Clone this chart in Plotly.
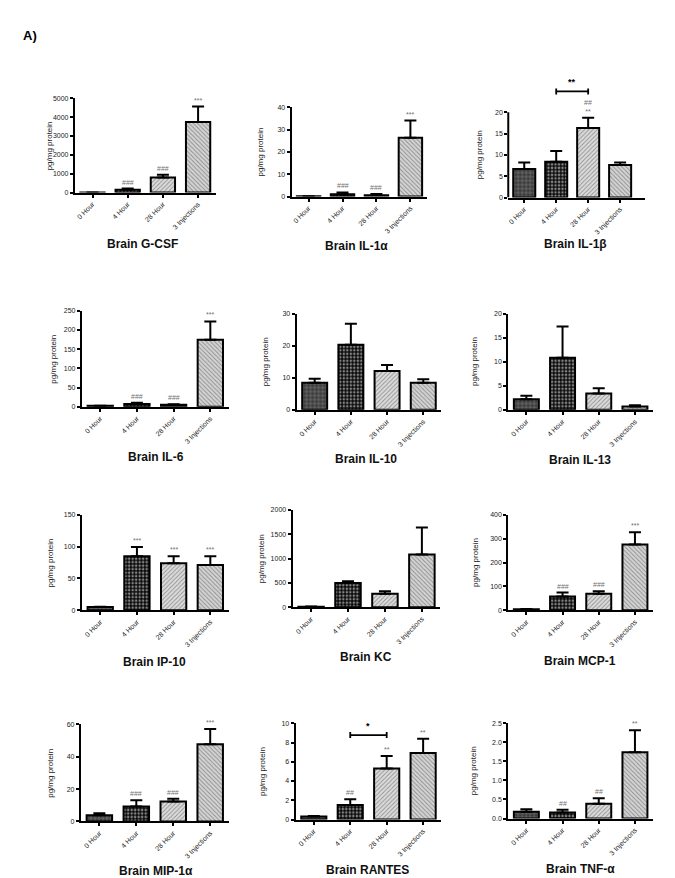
import plotly.graph_objects as go

W, H = 675, 878

categories = ["0 Hour", "4 Hour", "28 Hour", "3 Injections"]

gcsf_mean = [5, 150, 795, 3740]
gcsf_err = [3, 60, 150, 820]
gcsf_sig = ["", "###", "###", "***"]
gcsf_ticks = [0, 1000, 2000, 3000, 4000, 5000]

il1a_mean = [0.1, 1.0, 0.6, 26.3]
il1a_err = [0.05, 0.8, 0.5, 7.7]
il1a_sig = ["", "###", "###", "***"]
il1a_ticks = [0, 10, 20, 30, 40]

il1b_mean = [6.7, 8.4, 16.3, 7.6]
il1b_err = [1.5, 2.5, 2.4, 0.6]
il1b_sig = ["", "", "##<br>**", ""]
il1b_ticks = [0, 5, 10, 15, 20]
il1b_bracket = ["4 Hour", "28 Hour", "**"]

il6_mean = [2.5, 7.5, 5.5, 174]
il6_err = [0.5, 3, 1.5, 48]
il6_sig = ["", "###", "###", "***"]
il6_ticks = [0, 50, 100, 150, 200, 250]

il10_mean = [8.4, 20.3, 12.1, 8.4]
il10_err = [1.3, 6.5, 1.9, 1.1]
il10_sig = ["", "", "", ""]
il10_ticks = [0, 10, 20, 30]

il13_mean = [2.2, 10.8, 3.4, 0.7]
il13_err = [0.7, 6.5, 1.1, 0.25]
il13_sig = ["", "", "", ""]
il13_ticks = [0, 5, 10, 15, 20]

ip10_mean = [5, 85, 74, 71]
ip10_err = [0.5, 14.5, 11, 14]
ip10_sig = ["", "***", "***", "***"]
ip10_ticks = [0, 50, 100, 150]

kc_mean = [10, 500, 275, 1085]
kc_err = [3, 35, 55, 555]
kc_sig = ["", "", "", ""]
kc_ticks = [0, 500, 1000, 1500, 2000]

mcp1_mean = [4, 58, 69, 276]
mcp1_err = [1, 16, 11, 51]
mcp1_sig = ["", "###", "###", "***"]
mcp1_ticks = [0, 100, 200, 300, 400]

mip1a_mean = [3.9, 9.2, 12.3, 47.6]
mip1a_err = [1.2, 3.9, 1.7, 9.5]
mip1a_sig = ["", "###", "###", "***"]
mip1a_ticks = [0, 20, 40, 60]

rantes_mean = [0.3, 1.5, 5.3, 6.9]
rantes_err = [0.06, 0.6, 1.3, 1.5]
rantes_sig = ["", "##", "**", "**"]
rantes_ticks = [0, 2, 4, 6, 8, 10]
rantes_bracket = ["4 Hour", "28 Hour", "*"]

tnfa_mean = [0.18, 0.16, 0.39, 1.74]
tnfa_err = [0.06, 0.07, 0.14, 0.58]
tnfa_sig = ["", "##", "##", "**"]
tnfa_ticks = [0, 0.5, 1.0, 1.5, 2.0, 2.5]

panels = [
    ("Brain G-CSF", gcsf_mean, gcsf_err, gcsf_sig, gcsf_ticks, None),
    ("Brain IL-1α", il1a_mean, il1a_err, il1a_sig, il1a_ticks, None),
    ("Brain IL-1β", il1b_mean, il1b_err, il1b_sig, il1b_ticks, il1b_bracket),
    ("Brain IL-6", il6_mean, il6_err, il6_sig, il6_ticks, None),
    ("Brain IL-10", il10_mean, il10_err, il10_sig, il10_ticks, None),
    ("Brain IL-13", il13_mean, il13_err, il13_sig, il13_ticks, None),
    ("Brain IP-10", ip10_mean, ip10_err, ip10_sig, ip10_ticks, None),
    ("Brain KC", kc_mean, kc_err, kc_sig, kc_ticks, None),
    ("Brain MCP-1", mcp1_mean, mcp1_err, mcp1_sig, mcp1_ticks, None),
    ("Brain MIP-1α", mip1a_mean, mip1a_err, mip1a_sig, mip1a_ticks, None),
    ("Brain RANTES", rantes_mean, rantes_err, rantes_sig, rantes_ticks, rantes_bracket),
    ("Brain TNF-α", tnfa_mean, tnfa_err, tnfa_sig, tnfa_ticks, None),
]

# layout boxes in pixels: x0, x1, y of top tick, y of zero, title cx, title cy, y-title x, x right range
boxes = [
    (66, 207, 87, 182, 134, 234, 40, 3.5),
    (283, 419, 96, 186, 348, 236, 252, 3.5),
    (500, 637, 101, 187, 567, 234, 472, 3.78),
    (73, 220, 301, 398, 147, 449, 45, 3.5),
    (288, 433, 304, 401, 358, 451, 257, 3.5),
    (500, 645, 304, 401, 572, 452, 466, 3.5),
    (73, 220, 507, 603, 146, 655, 42, 3.5),
    (284, 432, 502, 600, 358, 650, 253, 3.5),
    (500, 645, 507, 603, 572, 654, 467, 3.5),
    (72, 220, 718, 816, 147, 866, 42, 3.5),
    (287, 433, 717, 814, 359, 865, 254, 3.5),
    (500, 645, 717, 813, 572, 864, 466, 3.5),
]

# bar fills (per category)
bg_colors = ["#3a3a3a", "#0a0a0a", "#dcdcdc", "#d4d4d4"]
fg_colors = ["#a0a0a0", "#ffffff", "#808080", "#808080"]
pat_shapes = ["+", ".", "/", "\\"]
pat_sizes = [4, 3.5, 3, 3]
pat_solid = [0.2, 0.4, 0.3, 0.3]

FONT = "Arial, Liberation Sans, sans-serif"

fig = go.Figure()
layout = dict(
    width=W, height=H, margin=dict(l=0, r=0, t=0, b=0),
    paper_bgcolor="white", plot_bgcolor="white", showlegend=False,
    font=dict(family=FONT, color="#222"),
)
annotations = []
shapes = []

for i, ((title, mean, err, sig, ticks, bracket), box) in enumerate(zip(panels, boxes)):
    k = i + 1
    xa, ya = f"x{k}", f"y{k}"
    x0, x1, ytop, yzero, tcx, tcy, ytx, xr = box
    top_tick = ticks[-1]
    ppu = (yzero - ytop) / top_tick
    range_top = top_tick
    bracket_y = None
    if bracket is not None:
        ia, ib = categories.index(bracket[0]), categories.index(bracket[1])
        tops = [mean[j] + err[j] for j in (ia, ib)]
        bracket_y = max(tops) * 1.33
        range_top = max(top_tick, bracket_y * 1.12)
    dom_top_px = yzero - range_top * ppu

    fig.add_trace(go.Bar(
        x=categories, y=mean, width=0.69,
        xaxis=xa, yaxis=ya,
        marker=dict(
            color=bg_colors,
            line=dict(color="black", width=2),
            pattern=dict(shape=pat_shapes, fgcolor=fg_colors, bgcolor=bg_colors,
                         size=pat_sizes, solidity=pat_solid),
        ),
        error_y=dict(type="data", symmetric=False, array=err, arrayminus=[0] * len(err),
                     color="black", thickness=2, width=6),
        hoverinfo="skip",
    ))

    dec = any(float(t) != int(t) for t in ticks)
    ticktext = [f"{t:.1f}" if dec else f"{int(t)}" for t in ticks]
    extended = range_top > top_tick

    layout[f"xaxis{k}"] = dict(
        domain=[x0 / W, x1 / W], anchor=ya, type="category",
        categoryorder="array", categoryarray=categories,
        range=[-0.5, xr], showline=True, linecolor="black", linewidth=2,
        ticks="outside", ticklen=3, tickwidth=1.5, tickcolor="black",
        tickangle=-45, tickfont=dict(size=7, family=FONT, color="#222"),
        showgrid=False, zeroline=False, fixedrange=True,
    )
    layout[f"yaxis{k}"] = dict(
        domain=[1 - yzero / H, 1 - dom_top_px / H], anchor=xa,
        range=[0, range_top], tickvals=ticks, ticktext=ticktext,
        showline=not extended, linecolor="black", linewidth=2,
        ticks="outside", ticklen=3, tickwidth=1.5, tickcolor="black",
        tickfont=dict(size=7, family=FONT, color="#222"),
        showgrid=False, zeroline=False, fixedrange=True,
    )
    if extended:
        shapes.append(dict(type="line", xref=f"{xa} domain", yref=ya,
                           x0=0, x1=0, y0=0, y1=top_tick,
                           line=dict(color="black", width=2)))

    # panel title
    annotations.append(dict(text=f"<b>{title}</b>", xref="paper", yref="paper",
                            x=tcx / W, y=1 - tcy / H, xanchor="center", yanchor="middle",
                            showarrow=False, font=dict(size=12, family=FONT, color="#111")))
    # y-axis title
    annotations.append(dict(text="pg/mg protein", xref="paper", yref="paper",
                            x=ytx / W, y=1 - (ytop + yzero) / 2 / H, textangle=-90,
                            xanchor="center", yanchor="middle", showarrow=False,
                            font=dict(size=8, family=FONT, color="#222")))
    # significance marks
    for j, s in enumerate(sig):
        if s:
            annotations.append(dict(text=s, xref=xa, yref=ya, x=categories[j],
                                    y=mean[j] + err[j], yanchor="bottom", xanchor="center",
                                    yshift=1, showarrow=False,
                                    font=dict(size=7, family=FONT, color="#707070")))
    # comparison bracket
    if bracket is not None:
        d = 3 / ppu
        fig.add_trace(go.Scatter(
            x=[bracket[0], bracket[0], None, bracket[0], bracket[1], None, bracket[1], bracket[1]],
            y=[bracket_y - d, bracket_y + d, None, bracket_y, bracket_y, None, bracket_y - d, bracket_y + d],
            mode="lines", line=dict(color="black", width=1.8),
            xaxis=xa, yaxis=ya, hoverinfo="skip",
        ))
        annotations.append(dict(text=f"<b>{bracket[2]}</b>", xref=xa, yref=ya,
                                x=(ia + ib) / 2, y=bracket_y, yanchor="bottom",
                                yshift=2, showarrow=False,
                                font=dict(size=9, family=FONT, color="black")))

annotations.append(dict(text="<b>A)</b>", xref="paper", yref="paper", x=12 / W, y=1 - 24 / H,
                        xanchor="left", yanchor="middle", showarrow=False,
                        font=dict(size=13, family=FONT, color="black")))

layout["annotations"] = annotations
layout["shapes"] = shapes
fig.update_layout(**layout)
fig.write_html("out.html")
